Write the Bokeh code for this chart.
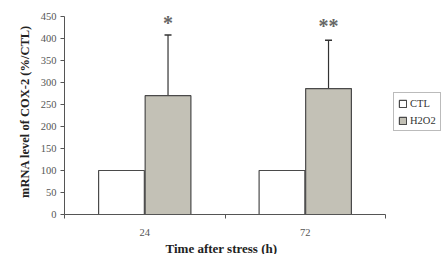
from bokeh.plotting import figure
from bokeh.models import (ColumnDataSource, Whisker, TeeHead, FixedTicker, Legend, LegendItem, Range1d, Title)
from bokeh.core.properties import value
from bokeh.embed import file_html
from bokeh.resources import INLINE

categories = ["24", "72"]
ctl = [100, 100]
h2o2 = [270, 286]
h2o2_err = [138, 110]
stars = ["*", "**"]
star_y = [436, 429]
x_title = "Time after stress (h)"
y_title = "mRNA level of COX-2 (%/CTL)"

FONT = "Liberation Serif"
n = len(categories)
pos = [i + 0.5 for i in range(n)]
off = 0.145
bw = 0.285

src_c = ColumnDataSource(dict(x=[p_ - off for p_ in pos], top=ctl))
src_h = ColumnDataSource(dict(x=[p_ + off for p_ in pos], top=h2o2,
                              upper=[h + e for h, e in zip(h2o2, h2o2_err)],
                              lower=[h - e for h, e in zip(h2o2, h2o2_err)]))
src_s = ColumnDataSource(dict(x=[p_ + off for p_ in pos], y=star_y, t=stars))

# plot area of 321 px holds the n categories; extra room on the right holds the legend
p = figure(frame_width=382, frame_height=206, output_backend="svg", toolbar_location=None,
           x_range=Range1d(0, n * 382 / 321), y_range=Range1d(0, 468),
           min_border_left=64, min_border_top=8, min_border_bottom=0, min_border_right=0)
p.outline_line_color = None
p.grid.grid_line_color = None
p.background_fill_color = "white"

r1 = p.vbar(x="x", top="top", width=bw, source=src_c, fill_color="white", line_color="#4a4a4a", line_width=1.2)
r2 = p.vbar(x="x", top="top", width=bw, source=src_h, fill_color="#c3c1b6", line_color="#4a4a4a", line_width=1.2)
w = Whisker(base="x", upper="upper", lower="lower", source=src_h, line_color="#333333", line_width=1.2,
            upper_head=TeeHead(size=7, line_color="#333333", line_width=1.5),
            lower_head=TeeHead(size=7, line_color="#333333", line_width=1.5))
p.add_layout(w)
p.text(x="x", y="y", text="t", source=src_s, text_align="center", text_baseline="middle",
       text_font=value(FONT), text_font_size="20px", text_color="#666666", text_font_style="bold")

p.xaxis.ticker = FixedTicker(ticks=pos, minor_ticks=list(range(n + 1)))
p.xaxis.bounds = (0, n)
p.xaxis.major_label_overrides = {pp: c for pp, c in zip(pos, categories)}
p.xaxis.major_tick_out = 0
p.xaxis.major_tick_in = 0
p.xaxis.minor_tick_out = 4
p.xaxis.minor_tick_in = 0

p.yaxis.ticker = FixedTicker(ticks=list(range(0, 451, 50)))
p.yaxis.bounds = (0, 450)
p.yaxis.major_tick_out = 4
p.yaxis.major_tick_in = 0
p.yaxis.axis_label = y_title

for ax in (p.xaxis[0], p.yaxis[0]):
    ax.axis_line_color = "#555555"
    ax.major_tick_line_color = "#555555"
    ax.major_label_text_font = FONT
    ax.major_label_text_font_size = "10.5px"
    ax.major_label_text_color = "#555555"
    ax.axis_label_text_font = FONT
    ax.axis_label_text_font_style = "bold"
    ax.axis_label_text_color = "#222222"
p.yaxis.axis_label_text_font_size = "12.5px"
p.xaxis.minor_tick_line_color = "#555555"
p.yaxis.minor_tick_line_color = None
p.xaxis.major_label_standoff = 10
p.yaxis.major_label_standoff = 4
p.yaxis.axis_label_standoff = 6

xt = Title(text=x_title, align="left", offset=101, text_font=FONT, text_font_style="bold",
           text_font_size="13px", text_color="#222222", standoff=0)
p.add_layout(xt, "below")

legend = Legend(items=[LegendItem(label="CTL", renderers=[r1]), LegendItem(label="H2O2", renderers=[r2])],
                location=(329, 83), border_line_color="#777777", border_line_width=1,
                label_text_font=FONT, label_text_font_size="10.5px", label_text_color="#333333",
                glyph_width=9, glyph_height=9, label_standoff=3, padding=4, spacing=5,
                margin=0, label_height=12)
p.add_layout(legend, "center")

open("out.html", "w").write(file_html(p, INLINE))
